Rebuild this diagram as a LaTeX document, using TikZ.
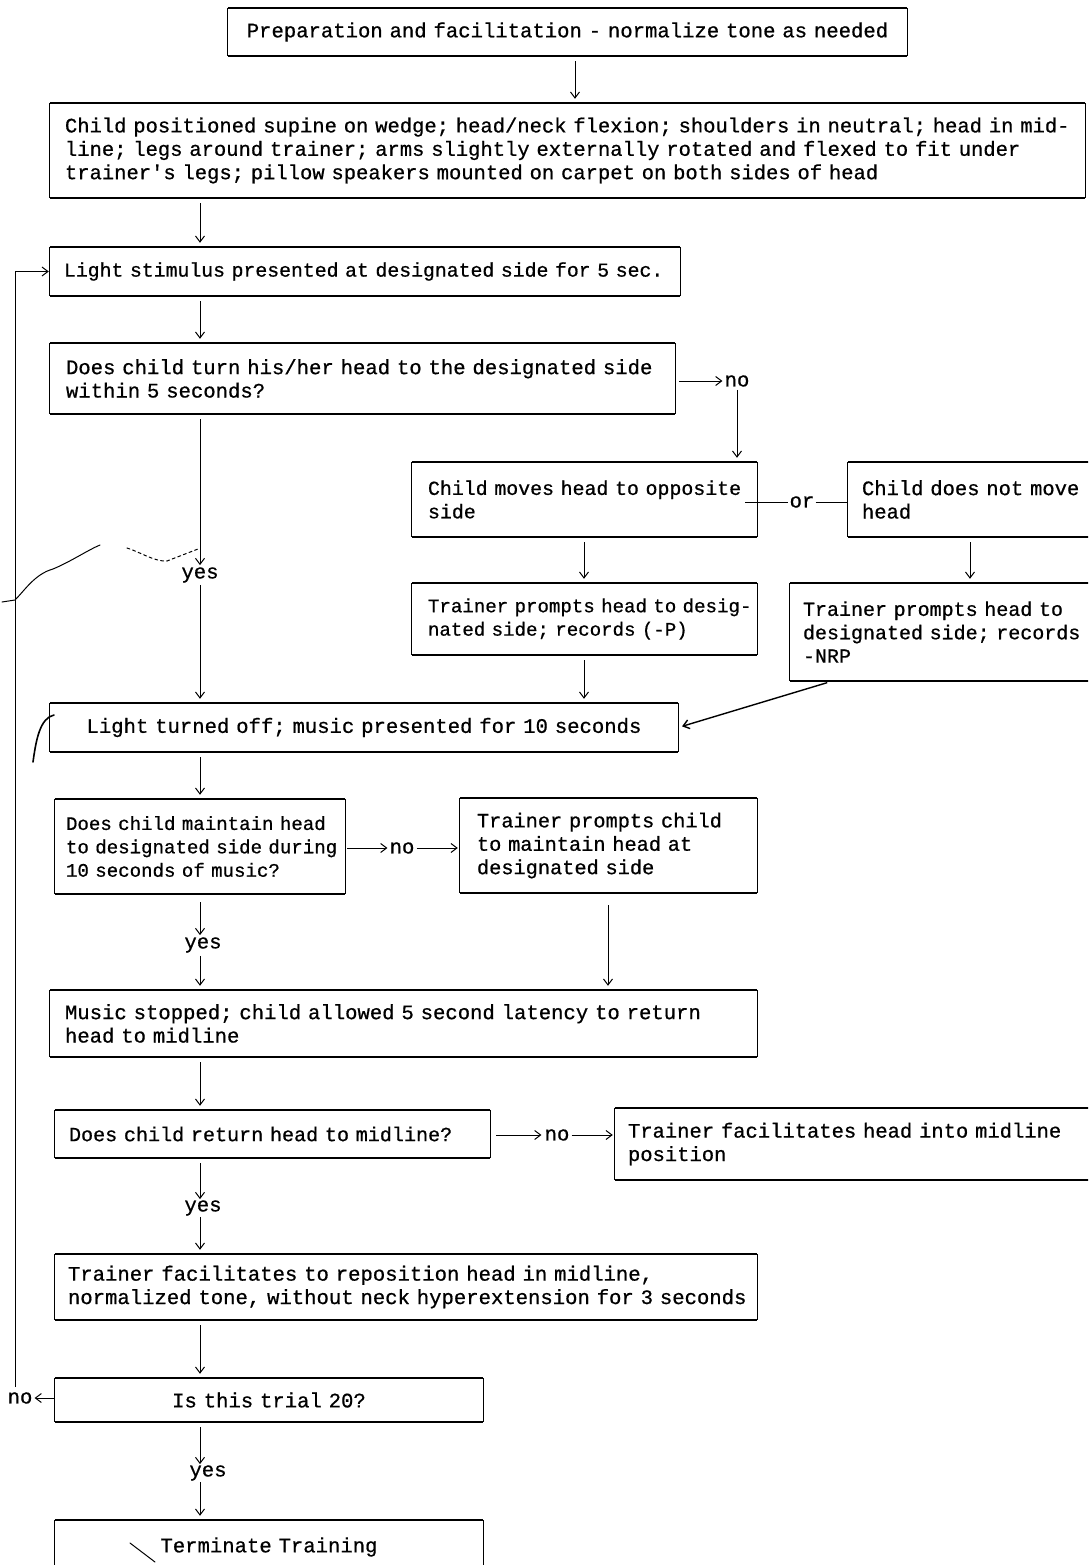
\documentclass[tikz,border=0pt]{standalone}
\usepackage{fontspec}
\newfontfamily\twfont{Liberation Mono}[FakeBold=0.7]
\usetikzlibrary{arrows.meta,calc}
% typewriter face at a given size
\newcommand\tw[1]{\fontsize{#1}{23.4}\selectfont\twfont\frenchspacing}
% one typed line, never broken
\newcommand\tyl[1]{\mbox{#1}}

\begin{document}
\begin{tikzpicture}[x=1pt,y=-1pt,
  box/.style={draw=none, inner sep=0pt, font=\tw{20.6}, align=left},
  lbl/.style={inner sep=1pt, font=\tw{20.6}},
  arr/.style={-{Straight Barb[length=6pt,width=9pt]}, line width=1pt,
              shorten >=4pt, shorten <=5pt},
  ln/.style={line width=1pt},
  scrawl/.style={line width=1pt, line cap=round},
]
\useasboundingbox (0,0) rectangle (1088,1565);
\clip (0,0) rectangle (1088,1565);

% column positions of the vertical connectors
\coordinate (colA) at (200,0);
\coordinate (colP) at (575,0);
\coordinate (colB) at (584,0);
\coordinate (colC) at (970,0);
\coordinate (colD) at (832,0);
\coordinate (colE) at (608,0);
\coordinate (loopx) at (15,0);

% process and decision boxes
\node[box, align=center, minimum width=679, minimum height=48, text width=670] (prep) at (567.5,32)
  {\tyl{Preparation and facilitation - normalize tone as needed}};
\node[box, font=\tw{20.5}, minimum width=1035, minimum height=95, text width=1005] (pos) at (567.5,150.5)
  {\tyl{Child positioned supine on wedge; head/neck flexion; shoulders in neutral; head in mid-}\\
   \tyl{line; legs around trainer; arms slightly externally rotated and flexed to fit under}\\
   \tyl{trainer's legs; pillow speakers mounted on carpet on both sides of head}};
\node[box, font=\tw{19.8}, minimum width=630, minimum height=49, text width=602] (light) at (365,271.5)
  {\tyl{Light stimulus presented at designated side for 5 sec.}};
\node[box, minimum width=625, minimum height=71, text width=593] (turn) at (362.5,378.5)
  {\tyl{Does child turn his/her head to the designated side}\\\tyl{within 5 seconds?}};
\node[box, font=\tw{19.9}, minimum width=345, minimum height=75, text width=313] (opp) at (584.5,499.5)
  {\tyl{Child moves head to opposite}\\\tyl{side}};
\node[box, font=\tw{20.5}, minimum width=244, minimum height=75, text width=216] (nomove) at (970,499.5)
  {\tyl{Child does not move}\\\tyl{head}};
\node[box, font=\tw{19.1}, minimum width=345, minimum height=72, text width=313] (tp) at (584.5,619)
  {\tyl{Trainer prompts head to desig-}\\\tyl{nated side; records (-P)}};
\node[box, font=\tw{20}, minimum width=302, minimum height=98, text width=276] (nrp) at (941,632)
  {\tyl{Trainer prompts head to}\\\tyl{designated side; records}\\\tyl{-NRP}};
\node[box, align=center, minimum width=628, minimum height=49, text width=600] (off) at (364,727.5)
  {\tyl{Light turned off; music presented for 10 seconds}};
\node[box, font=\tw{19.1}, minimum width=290, minimum height=95, text width=268] (maint) at (200,846.5)
  {\tyl{Does child maintain head}\\\tyl{to designated side during}\\\tyl{10 seconds of music?}};
\node[box, font=\tw{20.3}, minimum width=297, minimum height=95, text width=263] (pc) at (608.5,845.5)
  {\tyl{Trainer prompts child}\\\tyl{to maintain head at}\\\tyl{designated side}};
\node[box, minimum width=707, minimum height=67, text width=677] (stop) at (403.5,1023.5)
  {\tyl{Music stopped; child allowed 5 second latency to return}\\\tyl{head to midline}};
\node[box, font=\tw{20.1}, minimum width=435, minimum height=48, text width=407] (ret) at (272.5,1134)
  {\tyl{Does child return head to midline?}};
\node[box, font=\tw{20.5}, minimum width=477, minimum height=72, text width=451] (fac) at (853.5,1144)
  {\tyl{Trainer facilitates head into midline}\\\tyl{position}};
\node[box, minimum width=702, minimum height=66, text width=676] (rep) at (406,1287)
  {\tyl{Trainer facilitates to reposition head in midline,}\\\tyl{normalized tone, without neck hyperextension for 3 seconds}};
\node[box, align=center, minimum width=428, minimum height=44, text width=400] (trial) at (269,1400)
  {\tyl{Is this trial 20?}};
\node[box, align=center, minimum width=428, minimum height=54, text width=400] (term) at (269,1547)
  {\tyl{Terminate Training}};

% box outlines: heavy top and bottom rules, light sides
\foreach \n in {prep,pos,light,turn,opp,nomove,tp,nrp,off,maint,pc,stop,ret,fac,rep,trial,term}{
  \draw[line width=2pt] (\n.north west) -- (\n.north east) (\n.south west) -- (\n.south east);
  \draw[line width=0.9pt] (\n.north west) -- (\n.south west) (\n.north east) -- (\n.south east);
}

% connectors
\draw[arr] (prep.south -| colP) -- (pos.north -| colP);
\draw[arr] (pos.south -| colA) -- (light.north -| colA);
\draw[arr] (light.south -| colA) -- (turn.north -| colA);

\node[lbl] (no1) at (737,381) {no};
\draw[arr, shorten <=4pt, shorten >=1pt] (turn.east |- no1) -- (no1.west);
\draw[arr, shorten <=2pt] (no1.south) -- (no1.south |- opp.north);

\node[lbl] (or) at (802,502) {or};
\draw[ln] (opp.east |- or) ++(-12,0) -- (or.west) (or.east) -- (nomove.west |- or);

\draw[arr] (opp.south -| colB) -- (tp.north -| colB);
\draw[arr] (tp.south -| colB) -- (off.north -| colB);
\draw[arr] (nomove.south -| colC) -- (nrp.north -| colC);
\draw[arr, line width=1.4pt] (nrp.south -| colD) -- (off.east);

\node[lbl] (yes1) at (200,575) {yes};
\draw[arr, shorten >=1pt] (turn.south -| colA) -- (yes1.north -| colA);
\draw[arr, shorten <=1pt] (yes1.south -| colA) -- (off.north -| colA);

\draw[arr] (off.south -| colA) -- (maint.north -| colA);
\node[lbl] (no2) at (402,848) {no};
\draw[arr, shorten <=2pt, shorten >=1pt] (maint.east |- no2) -- (no2.west);
\draw[arr, shorten <=1pt, shorten >=2pt] (no2.east) -- (pc.west |- no2);

\node[lbl] (yes2) at (203,945) {yes};
\draw[arr, shorten <=8pt, shorten >=1pt] (maint.south -| colA) -- (yes2.north -| colA);
\draw[arr, shorten <=2pt] (yes2.south -| colA) -- (stop.north -| colA);
\draw[arr, shorten <=12pt] (pc.south -| colE) -- (stop.north -| colE);

\draw[arr] (stop.south -| colA) -- (ret.north -| colA);
\node[lbl] (no3) at (557,1135) {no};
\draw[arr, shorten <=6pt, shorten >=2pt] (ret.east |- no3) -- (no3.west);
\draw[arr, shorten <=1pt, shorten >=2pt] (no3.east) -- (fac.west |- no3);

\node[lbl] (yes3) at (203,1208) {yes};
\draw[arr, shorten >=0pt] (ret.south -| colA) -- (yes3.north -| colA);
\draw[arr, shorten <=0pt] (yes3.south -| colA) -- (rep.north -| colA);
\draw[arr] (rep.south -| colA) -- (trial.north -| colA);

\node[lbl] (no4) at (20,1398) {no};
\draw[arr, shorten <=1pt, shorten >=1pt] (trial.west |- no4) -- (no4.east);
\draw[arr, shorten <=4pt, shorten >=1pt] (no4.north -| loopx) -- (light.west -| loopx) -- (light.west);

\node[lbl] (yes4) at (208,1473) {yes};
\draw[arr, shorten >=0pt] (trial.south -| colA) -- (yes4.north -| colA);
\draw[arr, shorten <=0pt] (yes4.south -| colA) -- (term.north -| colA);

% pencil marks on the sheet
\draw[scrawl] (2,602) -- (15,600) .. controls (25,590) and (35,574) .. (53,569)
  .. controls (70,562) and (88,550) .. (100,545);
\draw[scrawl, dashed] (127,548) .. controls (140,552) and (155,562) .. (167,561) -- (198,549);
\draw[scrawl, line width=1.6pt] (33,762) .. controls (36,740) and (40,718) .. (54,715);
\draw[scrawl] (130,1543) -- (155,1562);
\end{tikzpicture}
\end{document}
